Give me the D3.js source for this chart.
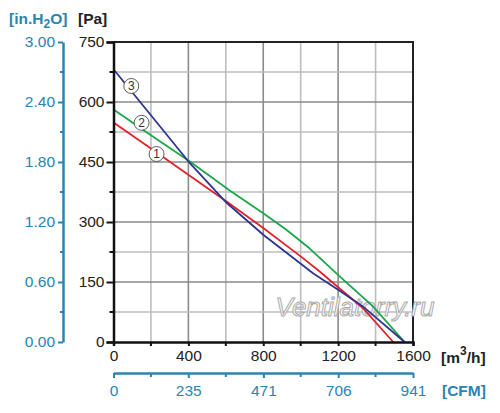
<!DOCTYPE html>
<html>
<head>
<meta charset="utf-8">
<script src="https://cdn.jsdelivr.net/npm/d3@7"></script>
<style>
  body { margin: 0; background: #fff; }
  text { font-family: "Liberation Sans", Arial, sans-serif; }
</style>
</head>
<body>
<div id="chart"></div>
<script>
// curve data, [m3/h, Pa]
var curve1 = [[0, 549], [200, 484], [400, 418], [604, 351], [800, 285], [1000, 214], [1100, 177], [1200, 137], [1332, 85], [1494, 0]];
var curve2 = [[0, 581], [200, 517], [408, 451], [621, 379], [800, 322], [920, 282], [1040, 237], [1208, 164], [1386, 89], [1555, 0]];
var curve3 = [[0, 682], [200, 567], [408, 447], [604, 348], [800, 268], [1066, 172], [1208, 128], [1332, 89], [1555, 0]];
var curveNames = ["1", "2", "3"];
var curveColors = ["#e32129", "#1ba64a", "#2d3590"];

var flowTicks = [0, 400, 800, 1200, 1600];
var cfmTicks = [0, 235, 471, 706, 941];
var paTicks = [0, 150, 300, 450, 600, 750];
var inTicks = ["0.00", "0.60", "1.20", "1.80", "2.40", "3.00"];

var width = 500, height = 413;
var margin = { top: 42, left: 113.5, right: 87, bottom: 71 };
var blue = "#2a84b2";

var svg = d3.select("#chart").append("svg")
  .attr("width", width)
  .attr("height", height);

var x = d3.scaleLinear().domain([0, 1600]).range([margin.left, width - margin.right]);
var y = d3.scaleLinear().domain([0, 750]).range([height - margin.bottom, margin.top]);
var xCfm = d3.scaleLinear().domain([0, 941]).range([margin.left, width - margin.right]);
var yIn = d3.scaleLinear().domain([0, 3]).range([height - margin.bottom, margin.top]);

// grid
var gridX = d3.range(200, 1600, 200);
var gridY = d3.range(75, 750, 75);
svg.append("g").selectAll("line").data(gridX).enter().append("line")
  .attr("x1", d => x(d)).attr("x2", d => x(d))
  .attr("y1", y(0)).attr("y2", y(750))
  .attr("stroke", d => d % 400 === 0 ? "#8a8a8a" : "#bdbdbd")
  .attr("stroke-width", 1.6);
svg.append("g").selectAll("line").data(gridY).enter().append("line")
  .attr("x1", x(0)).attr("x2", x(1600))
  .attr("y1", d => y(d)).attr("y2", d => y(d))
  .attr("stroke", d => d % 150 === 0 ? "#8a8a8a" : "#bdbdbd")
  .attr("stroke-width", 1.6);

// frame top/right
svg.append("path")
  .attr("d", "M" + x(0) + "," + y(750) + "H" + x(1600) + "V" + y(0))
  .attr("fill", "none").attr("stroke", "#222").attr("stroke-width", 2);

// watermark
svg.append("text")
  .attr("x", 355).attr("y", 316)
  .attr("text-anchor", "middle")
  .style("font-size", "26px")
  .style("font-style", "italic")
  .attr("fill", "#fff")
  .attr("stroke", "#aaa")
  .attr("stroke-width", 1)
  .text("Ventilatorry.ru");

// curves
var line = d3.line().x(d => x(d[0])).y(d => y(d[1]));
var curves = [curve1, curve2, curve3];
svg.append("g").selectAll("path").data(curves).enter().append("path")
  .attr("d", line)
  .attr("fill", "none")
  .attr("stroke", (d, i) => curveColors[i])
  .attr("stroke-width", 1.8);

// curve labels
var labelPos = [[230, 470], [150, 548], [95, 640]];
var lab = svg.append("g").selectAll("g").data(labelPos).enter().append("g")
  .attr("transform", d => "translate(" + x(d[0]) + "," + y(d[1]) + ")");
lab.append("circle").attr("r", 7.5).attr("fill", "#fff").attr("stroke", "#333").attr("stroke-width", 0.8);
lab.append("text").attr("text-anchor", "middle").attr("dy", "0.36em")
  .style("font-size", "12px").attr("fill", "#333")
  .text((d, i) => curveNames[i]);

// Pa axis
var axisPa = svg.append("g")
  .attr("transform", "translate(" + x(0) + ",0)")
  .call(d3.axisLeft(y).tickValues(paTicks).tickSize(7).tickPadding(2));
axisPa.selectAll(".tick text").style("font-size", "15.5px").attr("fill", "#222");
axisPa.selectAll("line").attr("stroke", "#111").attr("stroke-width", 2);
axisPa.select(".domain").attr("stroke", "#111").attr("stroke-width", 2.5);
svg.append("g").selectAll("line").data(d3.range(75, 750, 150)).enter().append("line")
  .attr("x1", x(0) - 4).attr("x2", x(0))
  .attr("y1", d => y(d)).attr("y2", d => y(d))
  .attr("stroke", "#111").attr("stroke-width", 2);

// flow axis
var axisFlow = svg.append("g")
  .attr("transform", "translate(0," + y(0) + ")")
  .call(d3.axisBottom(x).tickValues(flowTicks).tickFormat(d3.format("d")).tickSize(4).tickPadding(4));
axisFlow.selectAll(".tick text").style("font-size", "15.5px").attr("fill", "#222");
axisFlow.selectAll("line").attr("stroke", "#111").attr("stroke-width", 2);
axisFlow.select(".domain").attr("stroke", "#111").attr("stroke-width", 2.5);
svg.append("g").selectAll("line").data(d3.range(200, 1600, 400)).enter().append("line")
  .attr("x1", d => x(d)).attr("x2", d => x(d))
  .attr("y1", y(0)).attr("y2", y(0) + 4)
  .attr("stroke", "#111").attr("stroke-width", 2);

// in.H2O axis
var axisIn = svg.append("g")
  .attr("transform", "translate(63,0)")
  .call(d3.axisLeft(yIn).tickValues(inTicks.map(Number)).tickFormat((d, i) => inTicks[i]).tickSize(5).tickPadding(3).tickSizeOuter(0));
axisIn.selectAll(".tick text").style("font-size", "15.5px").attr("fill", blue);
axisIn.selectAll("line").attr("stroke", blue).attr("stroke-width", 2);
axisIn.select(".domain").attr("stroke", blue).attr("stroke-width", 2.5);
svg.append("g").selectAll("line").data([0.3, 0.9, 1.5, 2.1, 2.7]).enter().append("line")
  .attr("x1", 60).attr("x2", 63)
  .attr("y1", d => yIn(d)).attr("y2", d => yIn(d))
  .attr("stroke", blue).attr("stroke-width", 2);

// CFM axis
var axisCfm = svg.append("g")
  .attr("transform", "translate(0,373)")
  .call(d3.axisBottom(xCfm).tickValues(cfmTicks).tickSize(5).tickPadding(7).tickSizeOuter(0));
axisCfm.selectAll(".tick text").style("font-size", "15.5px").attr("fill", blue);
axisCfm.selectAll("line").attr("stroke", blue).attr("stroke-width", 2);
axisCfm.select(".domain").attr("stroke", blue).attr("stroke-width", 2.5);
svg.append("g").selectAll("line").data(d3.range(200, 1600, 400)).enter().append("line")
  .attr("x1", d => x(d)).attr("x2", d => x(d))
  .attr("y1", 373).attr("y2", 377)
  .attr("stroke", blue).attr("stroke-width", 2);

// unit titles
var t1 = svg.append("text").attr("x", 9).attr("y", 24)
  .style("font-size", "15.5px").style("font-weight", "bold").attr("fill", blue);
t1.append("tspan").text("[in.H");
t1.append("tspan").attr("dy", 4).style("font-size", "12px").text("2");
t1.append("tspan").attr("dy", -4).text("O]");

svg.append("text").attr("x", 78).attr("y", 24)
  .style("font-size", "15.5px").style("font-weight", "bold").attr("fill", "#222")
  .text("[Pa]");

var t2 = svg.append("text").attr("x", 441).attr("y", 363)
  .style("font-size", "15.5px").style("font-weight", "bold").attr("fill", "#222");
t2.append("tspan").text("[m");
t2.append("tspan").attr("dy", -8).style("font-size", "12px").text("3");
t2.append("tspan").attr("dy", 8).text("/h]");

svg.append("text").attr("x", 442).attr("y", 396)
  .style("font-size", "15.5px").style("font-weight", "bold").attr("fill", blue)
  .text("[CFM]");
</script>
</body>
</html>
